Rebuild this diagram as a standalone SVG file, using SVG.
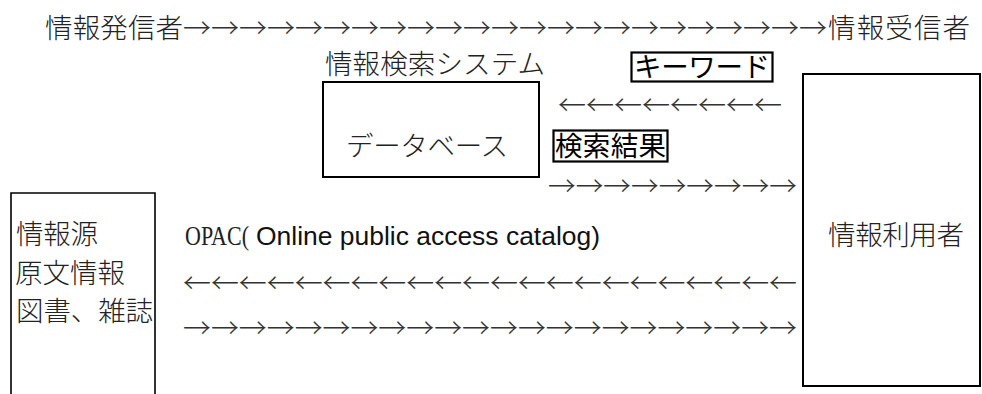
<svg xmlns="http://www.w3.org/2000/svg" width="982" height="394" viewBox="0 0 982 394">
<style>
  .jp { font-family: "Noto Sans CJK JP", "Noto Sans CJK SC", sans-serif; font-size: 27.5px; font-weight: 300; fill: #222; }
  .lbl { font-family: "Noto Sans CJK JP", "Noto Sans CJK SC", sans-serif; font-size: 27.5px; fill: #000; }
  .arr { font-family: "Noto Sans CJK JP", "Noto Sans CJK SC", sans-serif; font-size: 27.5px; font-weight: 300; fill: #333; }
  .lat { font-family: "Liberation Sans", Arial, sans-serif; font-size: 26.5px; fill: #111; }
  .mono { font-family: "Liberation Serif", serif; font-size: 27px; fill: #222; }
  .box { fill: #fff; stroke: #000; stroke-width: 2; }
  .tag { fill: #fff; stroke: #000; stroke-width: 2.2; }
</style>
<rect width="982" height="394" fill="#fff"/>

<g id="sender"><text class="jp" x="45" y="37.5" textLength="138">情報発信者</text></g>
<g id="receiver"><text class="jp" x="828" y="37.5" textLength="142">情報受信者</text></g>

<g id="system-title"><text class="jp" x="325" y="74" textLength="220">情報検索システム</text></g>

<g id="database">
  <rect class="box" x="323" y="82" width="216" height="95"/>
  <text class="jp" x="346" y="156" textLength="162">データベース</text>
</g>

<g id="keyword">
  <rect class="tag" x="631.5" y="52.5" width="141" height="29"/>
  <text class="lbl" x="634" y="76.5" textLength="136">キーワード</text>
</g>

<g id="result">
  <rect class="tag" x="553.5" y="130.5" width="114" height="31"/>
  <text class="lbl" x="555" y="156" textLength="111">検索結果</text>
</g>

<g id="user">
  <rect class="box" x="803" y="74" width="177" height="312"/>
  <text class="jp" x="828" y="245" textLength="136">情報利用者</text>
</g>

<g id="source">
  <path d="M11 400 V193 H155 V400" fill="#fff" stroke="#000" stroke-width="1.6"/>
  <text class="jp" x="16" y="244" textLength="82">情報源</text>
  <text class="jp" x="15" y="282.5" textLength="110">原文情報</text>
  <text class="jp" x="16" y="320.5" textLength="137">図書、雑誌</text>
</g>

<g id="opac">
  <text class="mono" x="185" y="244.5" textLength="64" lengthAdjust="spacingAndGlyphs">OPAC(</text>
  <text class="lat" x="256" y="244.5" textLength="344" lengthAdjust="spacingAndGlyphs">Online public access catalog)</text>
</g>

<g id="connectors">
  <text class="arr" x="183" y="37.5" textLength="644" lengthAdjust="spacingAndGlyphs">→→→→→→→→→→→→→→→→→→→→→→→</text>
  <text class="arr" x="558" y="115" textLength="224" lengthAdjust="spacingAndGlyphs">←←←←←←←←</text>
  <text class="arr" x="548" y="196" textLength="249" lengthAdjust="spacingAndGlyphs">→→→→→→→→→</text>
  <text class="arr" x="183" y="293" textLength="614" lengthAdjust="spacingAndGlyphs">←←←←←←←←←←←←←←←←←←←←←←</text>
  <text class="arr" x="183" y="338" textLength="614" lengthAdjust="spacingAndGlyphs">→→→→→→→→→→→→→→→→→→→→→→</text>
</g>
</svg>
